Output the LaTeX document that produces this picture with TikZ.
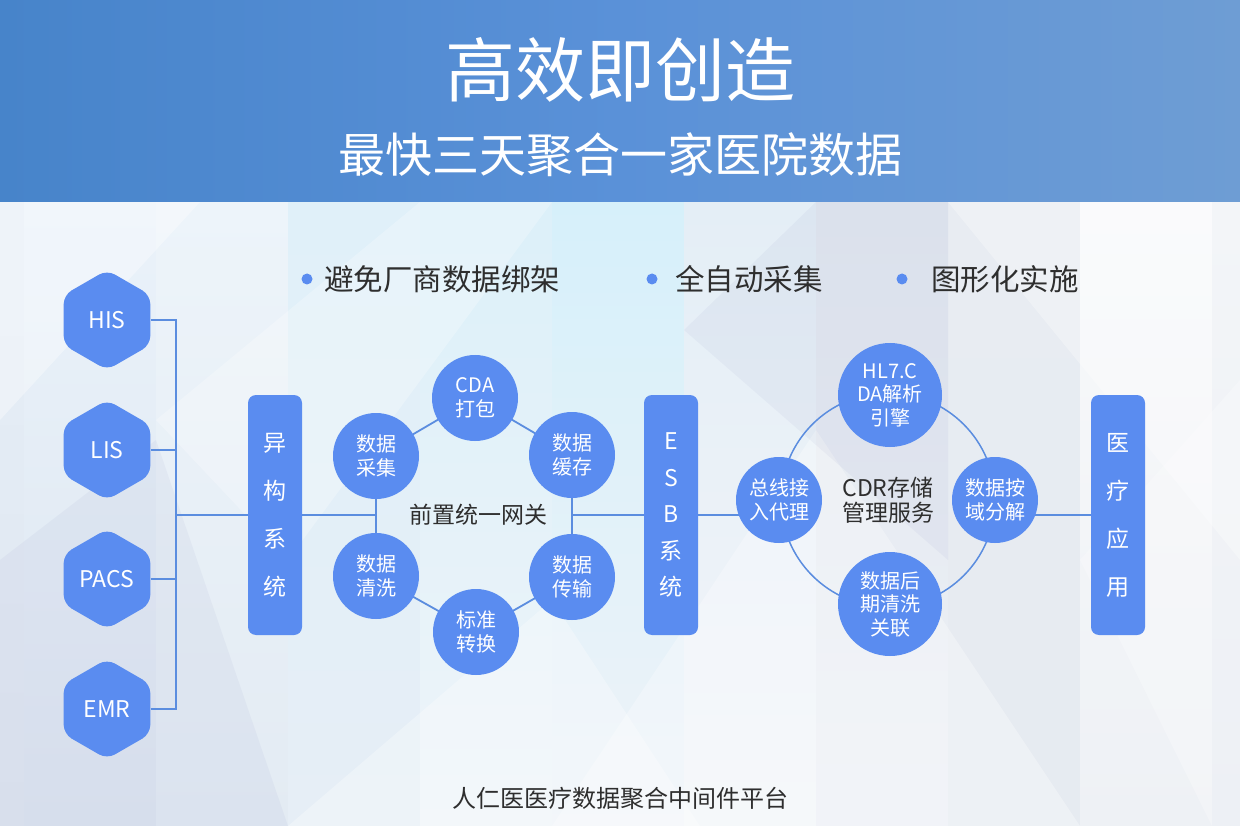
\documentclass[tikz,border=0pt]{standalone}
\usepackage{fontspec}
\setmainfont{Noto Sans CJK SC}
\usetikzlibrary{shapes.geometric}
\definecolor{nodeblue}{HTML}{5A8CF0}
\definecolor{lineblue}{HTML}{5B8DDF}
\definecolor{darktext}{HTML}{2E2E2E}
\definecolor{hdrL}{HTML}{4784CA}
\definecolor{hdrM}{HTML}{5A91D8}
\definecolor{hdrR}{HTML}{6E9DD4}
\definecolor{cA}{HTML}{E6EEF7}\definecolor{cAb}{HTML}{DFE7F0}
\definecolor{cB}{HTML}{EAF2FA}\definecolor{cBb}{HTML}{DDE6F0}
\definecolor{cC}{HTML}{EDF4FA}\definecolor{cCb}{HTML}{E3EBF3}
\definecolor{cD}{HTML}{E0F0F9}\definecolor{cDb}{HTML}{E6EEF6}
\definecolor{cE}{HTML}{DCF0F9}\definecolor{cEb}{HTML}{EEF4F9}
\definecolor{cF}{HTML}{D6F0FA}\definecolor{cFb}{HTML}{EEF3F8}
\definecolor{cG}{HTML}{E4EEF6}\definecolor{cGb}{HTML}{F2F5F9}
\definecolor{cH}{HTML}{E3E9F0}\definecolor{cHb}{HTML}{ECEFF5}
\definecolor{cI}{HTML}{E8ECF2}\definecolor{cIb}{HTML}{E6EBF1}
\definecolor{cJ}{HTML}{F8F9FB}\definecolor{cJb}{HTML}{EEF1F5}
\definecolor{cK}{HTML}{EEF1F5}\definecolor{cKb}{HTML}{E8ECF2}
\pgfdeclarelayer{bg}
\pgfdeclarelayer{lines}
\pgfsetlayers{bg,lines,main}
\begin{document}
\begin{tikzpicture}[x=1pt,y=-1pt,
  hexnode/.style={regular polygon, regular polygon sides=6, shape border rotate=30,
    minimum size=100pt, inner sep=0pt, fill=nodeblue, rounded corners=9pt,
    text=white, font=\fontsize{23}{26}\selectfont},
  ringnode/.style={circle, fill=nodeblue, minimum size=86pt, inner sep=0pt,
    text=white, align=center, font=\fontsize{20}{24}\selectfont},
  bigring/.style={ringnode, minimum size=104pt, font=\fontsize{20}{23.5}\selectfont},
  vbox/.style={rectangle, rounded corners=8pt, fill=nodeblue, minimum width=54pt,
    minimum height=240pt, inner sep=0pt, text=white, align=center},
  conn/.style={draw=lineblue, line width=1.2pt},
  ringline/.style={draw=lineblue, line width=1.8pt},
  cdrline/.style={draw=lineblue, line width=1.5pt},
  bullet/.style={circle, fill=nodeblue, minimum size=11pt, inner sep=0pt},
  bullettext/.style={anchor=west, text=darktext, inner sep=0pt, font=\fontsize{29.5}{32}\selectfont},
]
\useasboundingbox (0,0) rectangle (1240,826);
% ---------- background ----------
\begin{pgfonlayer}{bg}
\shade[top color=cA, bottom color=cAb] (0,202) rectangle (24,826);
\shade[top color=cB, bottom color=cBb] (24,202) rectangle (156,826);
\shade[top color=cC, bottom color=cCb] (156,202) rectangle (288,826);
\shade[top color=cD, bottom color=cDb] (288,202) rectangle (420,826);
\shade[top color=cE, bottom color=cEb] (420,202) rectangle (552,826);
\shade[top color=cF, bottom color=cFb] (552,202) rectangle (684,826);
\shade[top color=cG, bottom color=cGb] (684,202) rectangle (816,826);
\shade[top color=cH, bottom color=cHb] (816,202) rectangle (948,826);
\shade[top color=cI, bottom color=cIb] (948,202) rectangle (1080,826);
\shade[top color=cJ, bottom color=cJb] (1080,202) rectangle (1212,826);
\shade[top color=cK, bottom color=cKb] (1212,202) rectangle (1240,826);
% diagonal facets
\fill[white, opacity=0.35] (0,202) -- (200,202) -- (0,420) -- cycle;
\fill[white, opacity=0.25] (156,420) -- (420,202) -- (552,202) -- (288,560) -- cycle;
\fill[white, opacity=0.30] (552,826) -- (816,430) -- (1080,826) -- cycle;
\fill[white, opacity=0.30] (948,202) -- (1240,202) -- (1240,560) -- cycle;
\fill[white, opacity=0.25] (1080,560) -- (1240,380) -- (1240,826) -- (1212,826) -- cycle;
\fill[blue!30!gray, opacity=0.05] (0,560) -- (156,440) -- (288,826) -- (0,826) -- cycle;
\fill[blue!30!gray, opacity=0.05] (816,202) -- (948,202) -- (948,560) -- (684,330) -- cycle;
\fill[white, opacity=0.30] (288,826) -- (552,600) -- (700,826) -- cycle;
\shade[left color=hdrL, right color=hdrR, middle color=hdrM] (0,0) rectangle (1240,202);
\end{pgfonlayer}
% ---------- header ----------
\node[text=white, font=\fontsize{70}{72}\selectfont] (title) at (620,70) {高效即创造};
\node[text=white, font=\fontsize{47}{50}\selectfont] (subtitle) at (620,155) {最快三天聚合一家医院数据};
% ---------- bullets ----------
\node[bullet] (b1) at (307,279) {};
\node[bullettext] (t1) at (324,279) {避免厂商数据绑架};
\node[bullet] (b2) at (652,279) {};
\node[bullettext] (t2) at (675,279) {全自动采集};
\node[bullet] (b3) at (902,279) {};
\node[bullettext] (t3) at (931,279) {图形化实施};
% ---------- hexagons ----------
\node[hexnode] (his) at (107,320) {HIS};
\node[hexnode] (lis) at (107,450) {LIS};
\node[hexnode] (pacs) at (107,579) {PACS};
\node[hexnode] (emr) at (107,709) {EMR};
% ---------- vertical boxes ----------
\node[vbox, font=\fontsize{23}{48}\selectfont] (hetero) at (275,515) {异\\构\\系\\统};
\node[vbox, font=\fontsize{23}{36.5}\selectfont] (esb) at (671,515) {E\\S\\B\\系\\统};
\node[vbox, font=\fontsize{23}{48}\selectfont] (med) at (1118,515) {医\\疗\\应\\用};
% ---------- gateway ring ----------
\node[ringnode] (cda) at (475,398) {CDA\\打包};
\node[ringnode] (cache) at (572,455) {数据\\缓存};
\node[ringnode] (trans) at (572,577) {数据\\传输};
\node[ringnode] (std) at (476,632) {标准\\转换};
\node[ringnode] (clean) at (376,576) {数据\\清洗};
\node[ringnode] (collect) at (376,456) {数据\\采集};
\node[text=darktext, font=\fontsize{23}{26}\selectfont] (gw) at (478,515) {前置统一网关};
% ---------- CDR ring ----------
\coordinate (cdrc) at (888,500);
\node[ringnode] (bus) at (779,500) {总线接\\入代理};
\node[bigring] (hl7) at (890,395) {HL7.C\\DA解析\\引擎};
\node[ringnode] (split) at (995,500) {数据按\\域分解};
\node[bigring] (post) at (890,604) {数据后\\期清洗\\关联};
\node[text=darktext, align=center, font=\fontsize{23}{24.5}\selectfont] (cdr) at (888,500) {CDR存储\\管理服务};
% ---------- footer ----------
\node[text=darktext, font=\fontsize{24}{26}\selectfont] (footer) at (620,798) {人仁医医疗数据聚合中间件平台};
% ---------- connectors ----------
\begin{pgfonlayer}{lines}
\coordinate (jx) at (176,515);
\draw[conn] (his.east) -| (jx);
\draw[conn] (emr.east) -| (jx);
\draw[conn] (lis.east) -- (lis.east -| jx);
\draw[conn] (pacs.east) -- (pacs.east -| jx);
\draw[conn] (jx) -- (hetero.west);
\draw[conn] (hetero.east) -- (hetero.east -| collect.center);
\draw[ringline] (collect.center) -- (cda.center) -- (cache.center) -- (trans.center) -- (std.center) -- (clean.center) -- cycle;
\draw[conn] (esb.west) -- (esb.west -| cache.center);
\draw[conn] (esb.east) -- (esb.east -| bus.center);
\draw[cdrline] (cdrc) circle[radius=107];
\draw[conn] (med.west) -- (med.west -| split.center);
\end{pgfonlayer}
\end{tikzpicture}
\end{document}
